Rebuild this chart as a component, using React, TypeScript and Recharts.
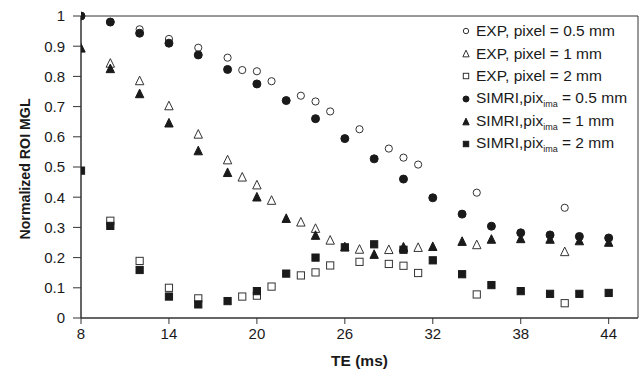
import React from 'react';
import {
  ScatterChart,
  Scatter,
  XAxis,
  YAxis,
  ReferenceArea
} from 'recharts';

// TE (ms) and normalized ROI MGL
const expHalfTE = [10, 12, 14, 16, 18, 19, 20, 21, 23, 24, 25, 27, 29, 30, 31, 35, 41];
const expHalf = [0.98, 0.956, 0.924, 0.895, 0.862, 0.821, 0.817, 0.784, 0.736, 0.717, 0.684, 0.625, 0.561, 0.531, 0.508, 0.415, 0.365];

const expOneTE = [10, 12, 14, 16, 18, 19, 20, 21, 23, 24, 25, 27, 29, 30, 31, 35, 41];
const expOne = [0.843, 0.785, 0.702, 0.608, 0.523, 0.466, 0.44, 0.389, 0.317, 0.296, 0.257, 0.227, 0.226, 0.235, 0.233, 0.242, 0.219];

const expTwoTE = [10, 12, 14, 16, 19, 20, 21, 23, 24, 25, 27, 29, 30, 31, 35, 41];
const expTwo = [0.322, 0.189, 0.1, 0.065, 0.071, 0.074, 0.104, 0.141, 0.151, 0.174, 0.186, 0.179, 0.173, 0.149, 0.078, 0.049];

const simTE = [8, 10, 12, 14, 16, 18, 20, 22, 24, 26, 28, 30, 32, 34, 36, 38, 40, 42, 44];
const simHalf = [1.0, 0.98, 0.943, 0.91, 0.871, 0.823, 0.775, 0.72, 0.66, 0.594, 0.527, 0.46, 0.398, 0.344, 0.304, 0.282, 0.275, 0.27, 0.265];
const simOne = [0.893, 0.825, 0.742, 0.645, 0.553, 0.481, 0.4, 0.329, 0.273, 0.235, 0.21, 0.232, 0.236, 0.253, 0.26, 0.262, 0.26, 0.255, 0.25];
const simTwo = [0.488, 0.305, 0.159, 0.071, 0.045, 0.056, 0.089, 0.147, 0.2, 0.234, 0.244, 0.226, 0.191, 0.145, 0.109, 0.089, 0.08, 0.08, 0.083];

const xTicks = [8, 14, 20, 26, 32, 38, 44];
const yTicks = [0, 0.1, 0.2, 0.3, 0.4, 0.5, 0.6, 0.7, 0.8, 0.9, 1];

const toPoints = (xs: number[], ys: number[]) => xs.map((x, i) => ({ x, y: ys[i] }));

const FONT = '"Liberation Sans", Arial, sans-serif';
const INK = '#1a1a1a';

type Kind = 'circle' | 'triangle' | 'square';

function marker(kind: Kind, filled: boolean, cx: number, cy: number, s: number) {
  const fill = filled ? INK : '#fff';
  const stroke = filled ? INK : '#333';
  if (kind === 'circle') {
    return <circle cx={cx} cy={cy} r={filled ? s * 0.5 : s * 0.45} fill={fill} stroke={stroke} strokeWidth={1} />;
  }
  if (kind === 'triangle') {
    const h = s * 0.95;
    const w = s * 1.05;
    const pts = `${cx},${cy - h / 2 - 1} ${cx - w / 2},${cy + h / 2} ${cx + w / 2},${cy + h / 2}`;
    return <polygon points={pts} fill={fill} stroke={stroke} strokeWidth={1} />;
  }
  const a = s * 0.9;
  return <rect x={cx - a / 2} y={cy - a / 2} width={a} height={a} fill={fill} stroke={stroke} strokeWidth={1} />;
}

const shapeOf = (kind: Kind, filled: boolean) => (props: any) => {
  const { cx, cy } = props;
  if (cx == null || cy == null) return <g />;
  return marker(kind, filled, cx, cy, 8);
};

const sub = <sub style={{ fontSize: 9 }}>ima</sub>;

const legendRows: { kind: Kind; filled: boolean; label: React.ReactNode }[] = [
  { kind: 'circle', filled: false, label: 'EXP, pixel = 0.5 mm' },
  { kind: 'triangle', filled: false, label: 'EXP, pixel = 1 mm' },
  { kind: 'square', filled: false, label: 'EXP, pixel = 2 mm' },
  { kind: 'circle', filled: true, label: <>SIMRI,pix{sub} = 0.5 mm</> },
  { kind: 'triangle', filled: true, label: <>SIMRI,pix{sub} = 1 mm</> },
  { kind: 'square', filled: true, label: <>SIMRI,pix{sub} = 2 mm</> }
];

function LegendBox() {
  return (
    <div style={{ position: 'absolute', left: 461, top: 20, fontFamily: FONT, fontSize: 15.5, color: INK }}>
      {legendRows.map((r, i) => (
        <div key={i} style={{ display: 'flex', alignItems: 'center', height: 22.6, whiteSpace: 'nowrap' }}>
          <svg width={10} height={10} style={{ marginRight: 5 }}>
            {marker(r.kind, r.filled, 5, 5, 6)}
          </svg>
          <span>{r.label}</span>
        </div>
      ))}
    </div>
  );
}

// rotated axis title, centred on the plot height
const YTitle = () => (
  <text
    x={25}
    y={169}
    transform="rotate(-90 25 169)"
    textAnchor="middle"
    dominantBaseline="central"
    fill={INK}
    fontSize={14.2}
    fontWeight="bold"
    fontFamily={FONT}
  >
    Normalized ROI MGL
  </text>
);

export default function App() {
  return (
    <div style={{ position: 'absolute', left: 0, top: 0, width: 644, height: 373, background: '#fff' }}>
      <ScatterChart width={644} height={373} margin={{ top: 16, right: 6, left: 0, bottom: 0 }}>
        <XAxis
          type="number"
          dataKey="x"
          domain={[8, 46]}
          ticks={xTicks}
          allowDataOverflow
          height={55}
          stroke="#333"
          tickSize={6}
          tickMargin={4}
          tick={{ fill: INK, fontSize: 15, fontFamily: FONT }}
          label={{ value: 'TE (ms)', position: 'insideBottom', offset: 7, fill: INK, fontSize: 15.5, fontWeight: 'bold', fontFamily: FONT }}
        />
        <YAxis
          type="number"
          dataKey="y"
          domain={[0, 1]}
          ticks={yTicks}
          width={81}
          stroke="#333"
          tickSize={8}
          tickMargin={8}
          tickFormatter={(v: number) => String(Math.round(v * 10) / 10)}
          tick={{ fill: INK, fontSize: 15, fontFamily: FONT }}
          label={{ content: YTitle }}
        />
        <ReferenceArea x1={8} x2={46} y1={0} y2={1} fill="none" stroke="#333" strokeWidth={1} ifOverflow="visible" />
        <Scatter name="EXP 0.5" data={toPoints(expHalfTE, expHalf)} shape={shapeOf('circle', false)} isAnimationActive={false} />
        <Scatter name="EXP 1" data={toPoints(expOneTE, expOne)} shape={shapeOf('triangle', false)} isAnimationActive={false} />
        <Scatter name="EXP 2" data={toPoints(expTwoTE, expTwo)} shape={shapeOf('square', false)} isAnimationActive={false} />
        <Scatter name="SIM 0.5" data={toPoints(simTE, simHalf)} shape={shapeOf('circle', true)} isAnimationActive={false} />
        <Scatter name="SIM 1" data={toPoints(simTE, simOne)} shape={shapeOf('triangle', true)} isAnimationActive={false} />
        <Scatter name="SIM 2" data={toPoints(simTE, simTwo)} shape={shapeOf('square', true)} isAnimationActive={false} />
      </ScatterChart>
      <LegendBox />
    </div>
  );
}
